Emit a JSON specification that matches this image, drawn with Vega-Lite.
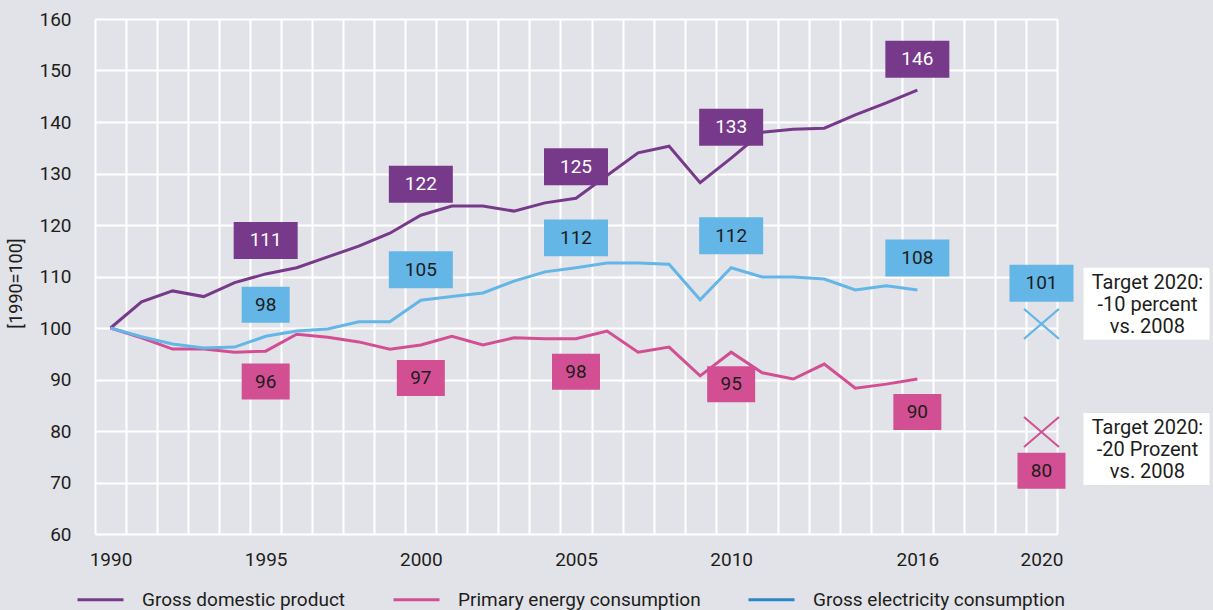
{
  "$schema": "https://vega.github.io/schema/vega-lite/v6.json",
  "width": 962,
  "height": 515,
  "autosize": {"type": "none"},
  "padding": {"left": 95, "top": 19, "right": 156, "bottom": 76},
  "background": "#e2e3e8",
  "config": {
    "view": {"stroke": null, "fill": "#e2e3e8"},
    "font": "Roboto",
    "text": {"font": "Roboto"}
  },
  "datasets": {
    "series": [
      {"year": 1990, "series": "Gross domestic product", "value": 100},
      {"year": 1991, "series": "Gross domestic product", "value": 105.1},
      {"year": 1992, "series": "Gross domestic product", "value": 107.2},
      {"year": 1993, "series": "Gross domestic product", "value": 106.1},
      {"year": 1994, "series": "Gross domestic product", "value": 108.8},
      {"year": 1995, "series": "Gross domestic product", "value": 110.5},
      {"year": 1996, "series": "Gross domestic product", "value": 111.7},
      {"year": 1997, "series": "Gross domestic product", "value": 113.8},
      {"year": 1998, "series": "Gross domestic product", "value": 115.9},
      {"year": 1999, "series": "Gross domestic product", "value": 118.4},
      {"year": 2000, "series": "Gross domestic product", "value": 121.9},
      {"year": 2001, "series": "Gross domestic product", "value": 123.7},
      {"year": 2002, "series": "Gross domestic product", "value": 123.7},
      {"year": 2003, "series": "Gross domestic product", "value": 122.7},
      {"year": 2004, "series": "Gross domestic product", "value": 124.3},
      {"year": 2005, "series": "Gross domestic product", "value": 125.2},
      {"year": 2006, "series": "Gross domestic product", "value": 129.6},
      {"year": 2007, "series": "Gross domestic product", "value": 134.0},
      {"year": 2008, "series": "Gross domestic product", "value": 135.3},
      {"year": 2009, "series": "Gross domestic product", "value": 128.2},
      {"year": 2010, "series": "Gross domestic product", "value": 133.0},
      {"year": 2011, "series": "Gross domestic product", "value": 138.0},
      {"year": 2012, "series": "Gross domestic product", "value": 138.6},
      {"year": 2013, "series": "Gross domestic product", "value": 138.8},
      {"year": 2014, "series": "Gross domestic product", "value": 141.4},
      {"year": 2015, "series": "Gross domestic product", "value": 143.7},
      {"year": 2016, "series": "Gross domestic product", "value": 146.2},
      {"year": 1990, "series": "Primary energy consumption", "value": 100},
      {"year": 1991, "series": "Primary energy consumption", "value": 98.1},
      {"year": 1992, "series": "Primary energy consumption", "value": 95.9},
      {"year": 1993, "series": "Primary energy consumption", "value": 95.9},
      {"year": 1994, "series": "Primary energy consumption", "value": 95.3},
      {"year": 1995, "series": "Primary energy consumption", "value": 95.5},
      {"year": 1996, "series": "Primary energy consumption", "value": 98.8},
      {"year": 1997, "series": "Primary energy consumption", "value": 98.2},
      {"year": 1998, "series": "Primary energy consumption", "value": 97.3},
      {"year": 1999, "series": "Primary energy consumption", "value": 95.9},
      {"year": 2000, "series": "Primary energy consumption", "value": 96.7},
      {"year": 2001, "series": "Primary energy consumption", "value": 98.4},
      {"year": 2002, "series": "Primary energy consumption", "value": 96.7},
      {"year": 2003, "series": "Primary energy consumption", "value": 98.1},
      {"year": 2004, "series": "Primary energy consumption", "value": 97.9},
      {"year": 2005, "series": "Primary energy consumption", "value": 97.9},
      {"year": 2006, "series": "Primary energy consumption", "value": 99.4},
      {"year": 2007, "series": "Primary energy consumption", "value": 95.3},
      {"year": 2008, "series": "Primary energy consumption", "value": 96.3},
      {"year": 2009, "series": "Primary energy consumption", "value": 90.7},
      {"year": 2010, "series": "Primary energy consumption", "value": 95.3},
      {"year": 2011, "series": "Primary energy consumption", "value": 91.3},
      {"year": 2012, "series": "Primary energy consumption", "value": 90.1},
      {"year": 2013, "series": "Primary energy consumption", "value": 93.0},
      {"year": 2014, "series": "Primary energy consumption", "value": 88.3},
      {"year": 2015, "series": "Primary energy consumption", "value": 89.1},
      {"year": 2016, "series": "Primary energy consumption", "value": 90.1},
      {"year": 1990, "series": "Gross electricity consumption", "value": 100},
      {"year": 1991, "series": "Gross electricity consumption", "value": 98.3},
      {"year": 1992, "series": "Gross electricity consumption", "value": 96.9},
      {"year": 1993, "series": "Gross electricity consumption", "value": 96.1},
      {"year": 1994, "series": "Gross electricity consumption", "value": 96.3},
      {"year": 1995, "series": "Gross electricity consumption", "value": 98.4},
      {"year": 1996, "series": "Gross electricity consumption", "value": 99.4},
      {"year": 1997, "series": "Gross electricity consumption", "value": 99.8},
      {"year": 1998, "series": "Gross electricity consumption", "value": 101.2},
      {"year": 1999, "series": "Gross electricity consumption", "value": 101.2},
      {"year": 2000, "series": "Gross electricity consumption", "value": 105.4},
      {"year": 2001, "series": "Gross electricity consumption", "value": 106.1},
      {"year": 2002, "series": "Gross electricity consumption", "value": 106.8},
      {"year": 2003, "series": "Gross electricity consumption", "value": 109.1},
      {"year": 2004, "series": "Gross electricity consumption", "value": 110.9},
      {"year": 2005, "series": "Gross electricity consumption", "value": 111.7},
      {"year": 2006, "series": "Gross electricity consumption", "value": 112.6},
      {"year": 2007, "series": "Gross electricity consumption", "value": 112.6},
      {"year": 2008, "series": "Gross electricity consumption", "value": 112.4},
      {"year": 2009, "series": "Gross electricity consumption", "value": 105.5},
      {"year": 2010, "series": "Gross electricity consumption", "value": 111.7},
      {"year": 2011, "series": "Gross electricity consumption", "value": 109.9},
      {"year": 2012, "series": "Gross electricity consumption", "value": 109.9},
      {"year": 2013, "series": "Gross electricity consumption", "value": 109.5},
      {"year": 2014, "series": "Gross electricity consumption", "value": 107.4},
      {"year": 2015, "series": "Gross electricity consumption", "value": 108.2},
      {"year": 2016, "series": "Gross electricity consumption", "value": 107.4}
    ],
    "labels": [
      {"year": 1995, "series": "Gross domestic product", "value": 117.0, "label": "111"},
      {"year": 2000, "series": "Gross domestic product", "value": 127.9, "label": "122"},
      {"year": 2005, "series": "Gross domestic product", "value": 131.3, "label": "125"},
      {"year": 2010, "series": "Gross domestic product", "value": 139.0, "label": "133"},
      {"year": 2016, "series": "Gross domestic product", "value": 152.2, "label": "146"},
      {"year": 1995, "series": "Gross electricity consumption", "value": 104.5, "label": "98"},
      {"year": 2000, "series": "Gross electricity consumption", "value": 111.3, "label": "105"},
      {"year": 2005, "series": "Gross electricity consumption", "value": 117.5, "label": "112"},
      {"year": 2010, "series": "Gross electricity consumption", "value": 117.9, "label": "112"},
      {"year": 2016, "series": "Gross electricity consumption", "value": 113.6, "label": "108"},
      {"year": 2020, "series": "Gross electricity consumption", "value": 108.7, "label": "101"},
      {"year": 1995, "series": "Primary energy consumption", "value": 89.6, "label": "96"},
      {"year": 2000, "series": "Primary energy consumption", "value": 90.3, "label": "97"},
      {"year": 2005, "series": "Primary energy consumption", "value": 91.5, "label": "98"},
      {"year": 2010, "series": "Primary energy consumption", "value": 89.1, "label": "95"},
      {"year": 2016, "series": "Primary energy consumption", "value": 83.7, "label": "90"},
      {"year": 2020, "series": "Primary energy consumption", "value": 72.3, "label": "80"}
    ],
    "targets": [
      {"year": 2020, "series": "Gross electricity consumption", "value": 100.8},
      {"year": 2020, "series": "Primary energy consumption", "value": 79.8}
    ],
    "notes": [
      {"year": 2020, "value": 104.7, "note": "Target 2020:\n -10 percent\nvs. 2008"},
      {"year": 2020, "value": 76.5, "note": "Target 2020:\n -20 Prozent\nvs. 2008"}
    ]
  },
  "encoding": {
    "x": {
      "field": "year",
      "type": "ordinal",
      "scale": {
        "type": "band",
        "paddingInner": 0,
        "paddingOuter": 0,
        "domain": [1990,1991,1992,1993,1994,1995,1996,1997,1998,1999,2000,2001,2002,2003,2004,2005,2006,2007,2008,2009,2010,2011,2012,2013,2014,2015,2016,2017,2018,2019,2020]
      },
      "axis": {
        "title": null,
        "tickBand": "extent",
        "ticks": false,
        "domain": false,
        "grid": true,
        "gridColor": "#ffffff",
        "gridWidth": 2,
        "gridOpacity": 1,
        "labelAngle": 0,
        "labelFont": "Roboto",
        "labelFontSize": 19,
        "labelColor": "#1d1d1b",
        "labelPadding": 16,
        "labelExpr": "indexof([1990,1995,2000,2005,2010,2016,2020], +datum.value) >= 0 ? datum.label : ''"
      }
    },
    "y": {
      "field": "value",
      "type": "quantitative",
      "scale": {"domain": [60, 160], "nice": false, "zero": false},
      "axis": {
        "title": "[1990=100]",
        "titleFont": "Roboto",
        "titleFontWeight": "normal",
        "titleFontSize": 18,
        "titleColor": "#1d1d1b",
        "titleX": -79,
        "titleY": 264,
        "titleAngle": -90,
        "titleBaseline": "middle",
        "titleAlign": "center",
        "values": [60, 70, 80, 90, 100, 110, 120, 130, 140, 150, 160],
        "ticks": false,
        "domain": false,
        "grid": true,
        "gridColor": "#ffffff",
        "gridWidth": 2,
        "gridOpacity": 1,
        "labelFont": "Roboto",
        "labelFontSize": 19,
        "labelColor": "#1d1d1b",
        "labelPadding": 24
      }
    }
  },
  "layer": [
    {
      "data": {"name": "series"},
      "mark": {"type": "line", "strokeWidth": 0, "clip": false},
      "encoding": {
        "stroke": {
          "field": "series",
          "type": "nominal",
          "scale": {
            "domain": ["Gross domestic product", "Primary energy consumption", "Gross electricity consumption"],
            "range": ["#773a8b", "#d24f93", "#2b86c5"]
          },
          "legend": {
            "title": null,
            "orient": "none",
            "legendX": -19,
            "legendY": 556,
            "direction": "horizontal",
            "symbolType": "stroke",
            "symbolSize": 2116,
            "symbolStrokeWidth": 3,
            "labelFont": "Roboto",
            "labelFontSize": 19,
            "labelColor": "#1d1d1b",
            "labelLimit": 0,
            "labelOffset": 17,
            "columnPadding": 41
          }
        }
      }
    },
    {
      "data": {"name": "series"},
      "mark": {"type": "line", "strokeWidth": 3, "clip": false},
      "encoding": {
        "color": {
          "field": "series",
          "type": "nominal",
          "scale": {
            "domain": ["Gross domestic product", "Primary energy consumption", "Gross electricity consumption"],
            "range": ["#773a8b", "#d24f93", "#63b6e6"]
          },
          "legend": null
        }
      }
    },
    {
      "data": {"name": "targets"},
      "mark": {"type": "point", "shape": "M-1,-0.857L1,0.857M-1,0.857L1,-0.857", "size": 1225, "filled": false, "strokeWidth": 2, "opacity": 1, "clip": false},
      "encoding": {
        "color": {"field": "series", "type": "nominal", "legend": null}
      }
    },
    {
      "data": {"name": "notes"},
      "mark": {"type": "point", "shape": "M0.667,-0.571H2.667V0.571H0.667Z", "size": 15876, "filled": true, "fill": "#ffffff", "opacity": 1, "strokeWidth": 0, "clip": false}
    },
    {
      "data": {"name": "notes"},
      "mark": {"type": "text", "dx": 106, "dy": -21, "align": "center", "baseline": "middle", "lineBreak": "\n", "lineHeight": 22, "fontSize": 20, "font": "Roboto", "color": "#1d1d1b", "clip": false},
      "encoding": {"text": {"field": "note"}}
    },
    {
      "data": {"name": "labels"},
      "mark": {"type": "point", "filled": true, "opacity": 1, "strokeWidth": 0, "clip": false},
      "encoding": {
        "color": {"field": "series", "type": "nominal", "legend": null},
        "shape": {"condition": {"test": "length(datum.label) > 2", "value": "M-1,-0.578H1V0.578H-1Z"}, "value": "M-1,-0.75H1V0.75H-1Z"},
        "size": {"condition": {"test": "length(datum.label) > 2", "value": 4096}, "value": 2304}
      }
    },
    {
      "data": {"name": "labels"},
      "mark": {"type": "text", "align": "center", "baseline": "middle", "fontSize": 19, "font": "Roboto", "clip": false},
      "encoding": {
        "text": {"field": "label"},
        "color": {"condition": {"test": "datum.series === 'Gross domestic product'", "value": "#ffffff"}, "value": "#1d1d1b"}
      }
    }
  ]
}
